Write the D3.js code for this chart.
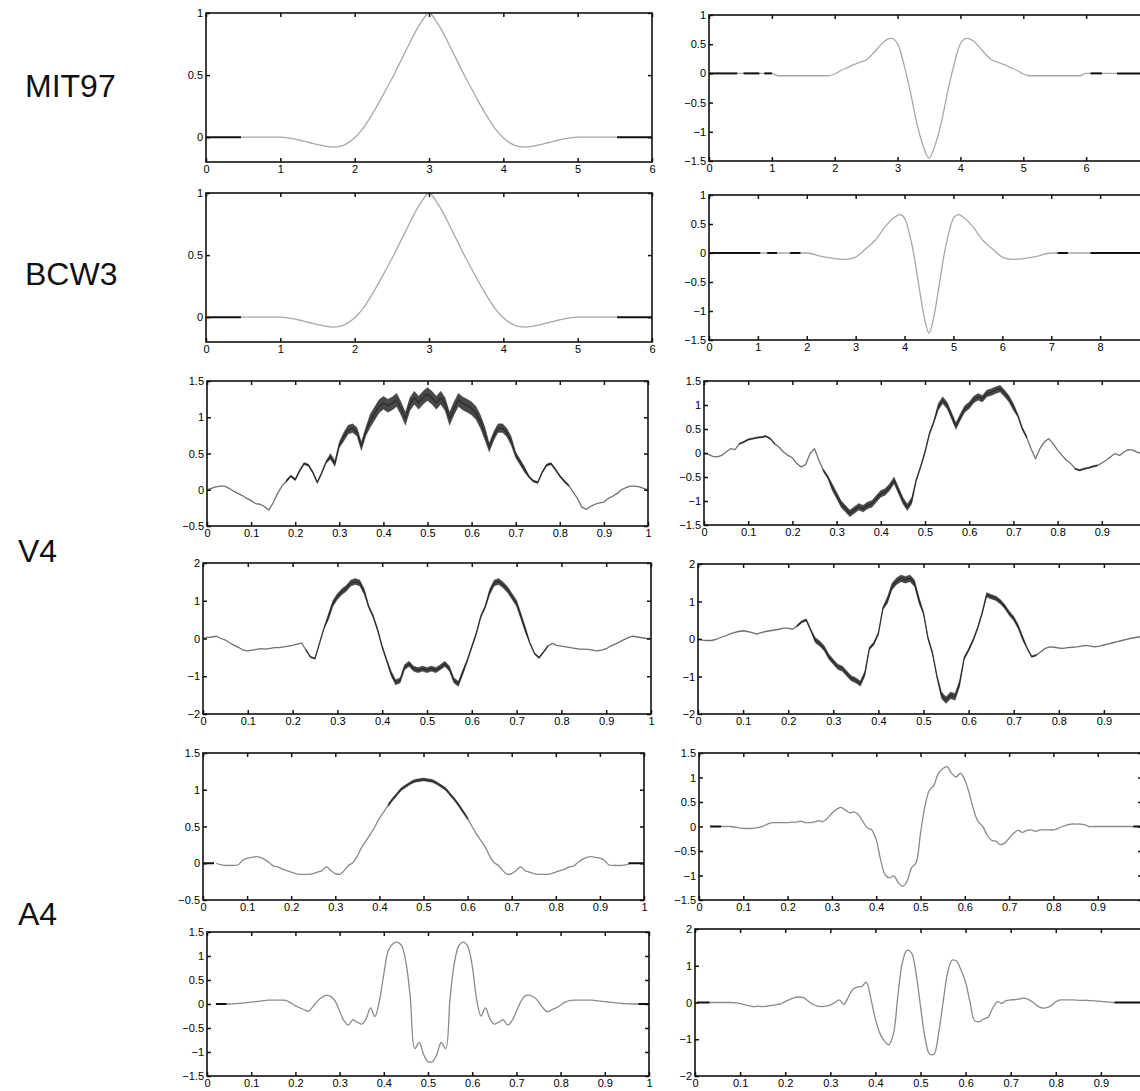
<!DOCTYPE html>
<html>
<head>
<meta charset="utf-8">
<script src="https://cdn.jsdelivr.net/npm/d3@7"></script>
<style>
  body { margin: 0; background: #fff; overflow: hidden; }
  svg { display: block; }
</style>
</head>
<body>
<div id="chart"></div>
<script>
// ---- data ----

const rowLabels = ["MIT97", "BCW3", "V4", "A4"];

// MIT97 / BCW3 scaling function (support 0..6)
const phiX = [0.47, 0.6, 0.8, 1.0, 1.1, 1.2, 1.3, 1.4, 1.5, 1.6, 1.7, 1.8, 1.9, 2.0, 2.1, 2.2, 2.3, 2.4, 2.5, 2.6,
  2.7, 2.8, 2.9, 3.0, 3.1, 3.2, 3.3, 3.4, 3.5, 3.6, 3.7, 3.8, 3.9, 4.0, 4.1, 4.2, 4.3, 4.4, 4.5, 4.6,
  4.7, 4.8, 4.9, 5.0, 5.2, 5.4, 5.53];
const mitPhi = [0, 0, 0, 0, -0.005, -0.015, -0.03, -0.045, -0.06, -0.072, -0.08, -0.075, -0.05, -0.005, 0.06, 0.15, 0.25, 0.36, 0.47, 0.59,
  0.71, 0.83, 0.93, 1.0, 0.93, 0.83, 0.71, 0.59, 0.47, 0.36, 0.25, 0.15, 0.06, -0.005, -0.05, -0.075, -0.08, -0.072, -0.06, -0.045,
  -0.03, -0.015, -0.005, 0, 0, 0, 0];
const bcwPhi = [0, 0, 0, 0, -0.005, -0.015, -0.03, -0.045, -0.06, -0.072, -0.08, -0.075, -0.05, -0.005, 0.06, 0.15, 0.25, 0.36, 0.47, 0.59,
  0.71, 0.83, 0.93, 1.0, 0.93, 0.83, 0.71, 0.59, 0.47, 0.36, 0.25, 0.15, 0.06, -0.005, -0.05, -0.075, -0.08, -0.072, -0.06, -0.045,
  -0.03, -0.015, -0.005, 0, 0, 0, 0];

// MIT97 wavelet
const mitPsiX = [0.45, 0.8, 1.0, 1.1, 1.5, 1.9, 2.0, 2.1, 2.2, 2.3, 2.4, 2.5, 2.6, 2.7, 2.8, 2.9, 3.0, 3.1, 3.2, 3.3,
  3.4, 3.5, 3.6, 3.7, 3.8, 3.9, 4.0, 4.1, 4.2, 4.3, 4.4, 4.5, 4.6, 4.7, 4.8, 4.9, 5.0, 5.1, 5.5, 5.9,
  6.0, 6.2, 6.5];
const mitPsi = [0, 0, 0, -0.04, -0.04, -0.04, -0.01, 0.05, 0.1, 0.15, 0.19, 0.23, 0.33, 0.45, 0.56, 0.60, 0.51, 0.16, -0.30, -0.82,
  -1.22, -1.45, -1.22, -0.82, -0.30, 0.16, 0.51, 0.60, 0.56, 0.45, 0.33, 0.23, 0.19, 0.15, 0.1, 0.05, -0.01, -0.04, -0.04, -0.04,
  0, 0, 0];

// BCW3 wavelet
const bcwPsiX = [1.05, 1.4, 1.87, 2.0, 2.3, 2.6, 2.8, 3.0, 3.2, 3.4, 3.6, 3.8, 3.9, 4.0, 4.1, 4.2, 4.3, 4.4, 4.5, 4.6,
  4.7, 4.8, 4.9, 5.0, 5.1, 5.2, 5.4, 5.6, 5.8, 6.0, 6.2, 6.4, 6.7, 7.0, 7.13, 7.4, 7.8];
const bcwPsi = [0, 0, 0, 0, -0.06, -0.1, -0.11, -0.07, 0.07, 0.22, 0.45, 0.62, 0.66, 0.6, 0.33, -0.07, -0.6, -1.1, -1.38, -1.1,
  -0.6, -0.07, 0.33, 0.6, 0.66, 0.62, 0.45, 0.22, 0.07, -0.07, -0.11, -0.1, -0.06, 0, 0, 0, 0];

// black zero-padding segments [from, to]
const mitPhiZero = [[0, 0.47], [5.53, 6]];
const mitPsiZero = [[0, 0.45], [0.55, 0.8], [0.88, 1.0], [6.07, 6.25], [6.49, 7]];
const bcwPhiZero = [[0, 0.47], [5.53, 6]];
const bcwPsiZero = [[0, 1.05], [1.19, 1.39], [1.66, 1.87], [7.13, 7.34], [7.8, 9]];
const a4PhiAZero = [[0, 0.025], [0.965, 1]];
const a4PsiAZero = [[0.025, 0.05], [0.98, 1]];
const a4PhiBZero = [[0.02, 0.044], [0.976, 1]];
const a4PsiBZero = [[0.004, 0.032], [0.93, 1]];

// common sample grid for the [0,1] panels
const gridX = [0, 0.01, 0.02, 0.03, 0.04, 0.05, 0.06, 0.07, 0.08, 0.09,
  0.10, 0.11, 0.12, 0.13, 0.14, 0.15, 0.16, 0.17, 0.18, 0.19,
  0.20, 0.21, 0.22, 0.23, 0.24, 0.25, 0.26, 0.27, 0.28, 0.29,
  0.30, 0.31, 0.32, 0.33, 0.34, 0.35, 0.36, 0.37, 0.38, 0.39,
  0.40, 0.41, 0.42, 0.43, 0.44, 0.45, 0.46, 0.47, 0.48, 0.49,
  0.50, 0.51, 0.52, 0.53, 0.54, 0.55, 0.56, 0.57, 0.58, 0.59,
  0.60, 0.61, 0.62, 0.63, 0.64, 0.65, 0.66, 0.67, 0.68, 0.69,
  0.70, 0.71, 0.72, 0.73, 0.74, 0.75, 0.76, 0.77, 0.78, 0.79,
  0.80, 0.81, 0.82, 0.83, 0.84, 0.85, 0.86, 0.87, 0.88, 0.89,
  0.90, 0.91, 0.92, 0.93, 0.94, 0.95, 0.96, 0.97, 0.98, 0.99, 1.00];

// V4, first pair
const v4PhiA = [0.00, 0.02, 0.04, 0.05, 0.05, 0.02, -0.02, -0.05, -0.08, -0.12,
  -0.15, -0.19, -0.20, -0.23, -0.28, -0.18, -0.05, 0.05, 0.12, 0.19,
  0.14, 0.26, 0.36, 0.34, 0.24, 0.10, 0.23, 0.38, 0.46, 0.36,
  0.62, 0.73, 0.83, 0.85, 0.80, 0.60, 0.80, 0.95, 1.05, 1.15,
  1.20, 1.16, 1.19, 1.24, 1.12, 0.98, 1.18, 1.27, 1.20, 1.27,
  1.32, 1.27, 1.20, 1.27, 1.18, 0.98, 1.12, 1.24, 1.19, 1.16,
  1.12, 1.06, 0.94, 0.78, 0.58, 0.74, 0.85, 0.85, 0.79, 0.67,
  0.48, 0.38, 0.28, 0.18, 0.12, 0.10, 0.24, 0.34, 0.36, 0.28,
  0.19, 0.12, 0.06, -0.03, -0.12, -0.24, -0.27, -0.23, -0.20, -0.18,
  -0.17, -0.12, -0.09, -0.05, 0.00, 0.03, 0.05, 0.05, 0.04, 0.02, 0.00];
const v4PsiA = [-0.01, -0.03, -0.07, -0.08, -0.05, 0.02, 0.09, 0.07, 0.19, 0.23,
  0.28, 0.30, 0.32, 0.33, 0.35, 0.30, 0.19, 0.12, 0.02, -0.05,
  -0.10, -0.22, -0.29, -0.24, -0.01, 0.09, -0.15, -0.36, -0.50, -0.71,
  -0.88, -1.06, -1.16, -1.26, -1.19, -1.12, -1.16, -1.09, -1.06, -0.95,
  -0.85, -0.81, -0.71, -0.57, -0.78, -0.99, -1.13, -0.99, -0.57, -0.29,
  0.02, 0.40, 0.65, 0.96, 1.10, 0.99, 0.78, 0.56, 0.75, 0.92,
  0.99, 1.11, 1.17, 1.13, 1.24, 1.27, 1.31, 1.34, 1.24, 1.13,
  0.96, 0.78, 0.51, 0.33, 0.09, -0.12, 0.09, 0.23, 0.30, 0.19,
  0.06, -0.05, -0.15, -0.22, -0.33, -0.36, -0.33, -0.31, -0.28, -0.26,
  -0.21, -0.15, -0.08, -0.01, -0.05, 0.02, 0.07, 0.06, 0.02, -0.01, 0.00];

// V4, second pair
const v4PhiB = [0.00, 0.03, 0.04, 0.06, 0.00, -0.04, -0.12, -0.18, -0.24, -0.31,
  -0.33, -0.31, -0.29, -0.27, -0.28, -0.26, -0.24, -0.24, -0.22, -0.20,
  -0.18, -0.15, -0.12, -0.31, -0.49, -0.53, -0.13, 0.27, 0.58, 0.93,
  1.11, 1.24, 1.33, 1.47, 1.51, 1.47, 1.24, 0.84, 0.58, 0.22,
  -0.22, -0.58, -0.93, -1.16, -1.11, -0.76, -0.67, -0.80, -0.84, -0.80,
  -0.84, -0.80, -0.84, -0.76, -0.67, -0.80, -1.11, -1.20, -0.89, -0.58,
  -0.22, 0.13, 0.58, 0.84, 1.24, 1.47, 1.51, 1.42, 1.29, 1.11,
  0.93, 0.58, 0.22, -0.13, -0.40, -0.51, -0.36, -0.20, -0.13, -0.18,
  -0.20, -0.22, -0.24, -0.26, -0.28, -0.28, -0.29, -0.31, -0.33, -0.31,
  -0.27, -0.20, -0.15, -0.09, -0.03, 0.03, 0.06, 0.04, 0.02, 0.00, 0.00];
const v4PsiB = [0.00, -0.03, -0.04, -0.04, -0.01, 0.04, 0.08, 0.13, 0.17, 0.20,
  0.22, 0.20, 0.17, 0.13, 0.17, 0.20, 0.22, 0.24, 0.26, 0.29,
  0.29, 0.26, 0.35, 0.46, 0.51, 0.24, -0.03, -0.12, -0.25, -0.47,
  -0.61, -0.74, -0.79, -0.92, -1.05, -1.10, -1.19, -0.92, -0.25, -0.12,
  0.15, 0.82, 1.04, 1.40, 1.54, 1.62, 1.58, 1.62, 1.49, 1.04,
  0.69, 0.02, -0.38, -1.01, -1.50, -1.63, -1.50, -1.54, -1.19, -0.52,
  -0.29, -0.03, 0.29, 0.69, 1.18, 1.13, 1.09, 1.00, 0.87, 0.69,
  0.55, 0.33, 0.02, -0.25, -0.47, -0.43, -0.34, -0.25, -0.21, -0.22,
  -0.24, -0.25, -0.23, -0.22, -0.21, -0.19, -0.17, -0.19, -0.21, -0.19,
  -0.16, -0.13, -0.10, -0.07, -0.04, -0.01, 0.02, 0.04, 0.06, 0.04, 0.00];

// thickness of the dense-oscillation band [from, to, half-height]
const v4PhiABands = [[0.18, 0.27, 0.015], [0.28, 0.30, 0.04], [0.31, 0.36, 0.06], [0.37, 0.63, 0.09],
  [0.64, 0.69, 0.06], [0.70, 0.72, 0.04], [0.73, 0.82, 0.015]];
const v4PsiABands = [[0.08, 0.16, 0.015], [0.27, 0.28, 0.03], [0.29, 0.47, 0.07], [0.48, 0.52, 0.03],
  [0.53, 0.70, 0.07], [0.71, 0.73, 0.03], [0.84, 0.89, 0.015]];
const v4PhiBBands = [[0.23, 0.27, 0.02], [0.28, 0.36, 0.08], [0.37, 0.41, 0.04], [0.42, 0.58, 0.07],
  [0.59, 0.63, 0.04], [0.64, 0.72, 0.08], [0.73, 0.77, 0.02]];
const v4PsiBBands = [[0.22, 0.25, 0.03], [0.26, 0.37, 0.07], [0.38, 0.41, 0.04], [0.42, 0.49, 0.09],
  [0.50, 0.53, 0.04], [0.54, 0.58, 0.09], [0.59, 0.63, 0.04], [0.64, 0.72, 0.06], [0.73, 0.75, 0.02]];
const a4PhiABands = [[0.42, 0.60, 0.02]];

// A4, first pair (null = padding drawn black)
const a4PhiA = [null, null, null, 0, -0.02, -0.03, -0.03, -0.03, -0.02, 0.04,
  0.07, 0.08, 0.09, 0.08, 0.05, 0.01, -0.04, -0.05, -0.08, -0.10,
  -0.12, -0.14, -0.15, -0.15, -0.15, -0.14, -0.12, -0.10, -0.05, -0.10,
  -0.14, -0.15, -0.10, -0.03, 0.01, 0.10, 0.22, 0.31, 0.40, 0.50,
  0.61, 0.70, 0.79, 0.87, 0.94, 1.01, 1.05, 1.09, 1.12, 1.13,
  1.14, 1.13, 1.12, 1.09, 1.05, 1.01, 0.94, 0.87, 0.79, 0.70,
  0.61, 0.50, 0.40, 0.31, 0.22, 0.10, 0.01, -0.03, -0.10, -0.15,
  -0.14, -0.10, -0.05, -0.10, -0.12, -0.14, -0.15, -0.15, -0.15, -0.14,
  -0.12, -0.10, -0.08, -0.05, -0.04, 0.01, 0.05, 0.08, 0.09, 0.08,
  0.07, 0.04, -0.02, -0.03, -0.03, -0.03, -0.02, 0, null, null, null];
const a4PsiA = [null, null, null, null, null, 0, 0, 0, -0.01, -0.03,
  -0.04, -0.04, -0.04, -0.03, -0.01, 0.03, 0.07, 0.08, 0.08, 0.08,
  0.08, 0.09, 0.09, 0.11, 0.08, 0.08, 0.09, 0.12, 0.10, 0.17,
  0.27, 0.35, 0.39, 0.34, 0.28, 0.30, 0.24, 0.10, -0.03, -0.07,
  -0.27, -0.68, -0.98, -1.05, -1.01, -1.15, -1.22, -1.11, -0.84, -0.74,
  -0.14, 0.41, 0.74, 0.84, 1.08, 1.18, 1.22, 1.09, 1.01, 1.09,
  0.95, 0.68, 0.34, 0.10, 0.01, -0.17, -0.28, -0.30, -0.37, -0.34,
  -0.24, -0.14, -0.08, -0.12, -0.08, -0.07, -0.10, -0.07, -0.07, -0.07,
  -0.07, -0.04, 0, 0.03, 0.05, 0.05, 0.05, 0.04, 0, 0,
  0, 0, 0, 0, 0, 0, 0, 0, 0, null, null];

// A4, second pair
const a4PhiB = [null, null, null, null, 0, 0, 0.005, 0.01, 0.02, 0.03,
  0.04, 0.05, 0.06, 0.07, 0.08, 0.08, 0.08, 0.08, 0.07, 0.02,
  -0.04, -0.08, -0.12, -0.15, -0.05, 0.06, 0.14, 0.18, 0.16, 0.06,
  -0.15, -0.35, -0.44, -0.33, -0.38, -0.42, -0.31, -0.08, -0.26, 0.06,
  0.62, 1.11, 1.25, 1.29, 1.22, 0.87, 0.13, -0.93, -0.80, -1.05,
  -1.20, -1.20, -1.05, -0.80, -0.93, 0.13, 0.87, 1.22, 1.29, 1.20,
  0.80, 0.10, -0.25, -0.08, -0.31, -0.42, -0.38, -0.33, -0.44, -0.35,
  -0.15, 0.05, 0.17, 0.18, 0.14, 0.05, -0.08, -0.16, -0.12, -0.08,
  -0.02, 0.04, 0.07, 0.08, 0.08, 0.08, 0.08, 0.08, 0.07, 0.06,
  0.05, 0.04, 0.03, 0.02, 0.01, 0.005, 0, 0, 0, null, null];
const a4PsiB = [null, null, null, 0, 0, 0, 0, 0, 0, -0.01,
  -0.03, -0.06, -0.09, -0.11, -0.10, -0.11, -0.10, -0.08, -0.06, -0.04,
  0.03, 0.08, 0.13, 0.15, 0.13, 0.05, -0.04, -0.09, -0.11, -0.10,
  -0.07, 0.00, 0.07, -0.05, 0.15, 0.36, 0.42, 0.44, 0.55, 0.10,
  -0.45, -0.84, -1.05, -1.15, -0.85, 0.20, 1.10, 1.42, 1.35, 0.80,
  -0.10, -0.95, -1.40, -1.40, -0.85, 0.00, 0.80, 1.15, 1.12, 0.88,
  0.55, 0.00, -0.50, -0.52, -0.45, -0.40, -0.15, 0.02, -0.02, 0.05,
  0.07, 0.08, 0.10, 0.12, 0.08, 0.00, -0.10, -0.15, -0.14, -0.08,
  0.02, 0.07, 0.07, 0.07, 0.07, 0.06, 0.06, 0.06, 0.05, 0.04,
  0.03, 0.02, 0.01, 0, null, null, null, null, null, null, null];

// ---- layout ----
const width = 1140, height = 1091;

const ticks01 = [0, 0.1, 0.2, 0.3, 0.4, 0.5, 0.6, 0.7, 0.8, 0.9, 1];
const smooth = d3.curveMonotoneX;
const wiggly = d3.curveCatmullRom.alpha(0.5);

const panels = [
  { box: [206, 13, 652, 162], xDomain: [0, 6], yDomain: [-0.2, 1], xTicks: [0, 1, 2, 3, 4, 5, 6], yTicks: [0, 0.5, 1],
    xs: phiX, ys: mitPhi, zero: mitPhiZero, color: "#a8a8a8", curve: smooth },
  { box: [709, 15, 1149, 161], xDomain: [0, 7], yDomain: [-1.5, 1], xTicks: [0, 1, 2, 3, 4, 5, 6, 7], yTicks: [-1.5, -1, -0.5, 0, 0.5, 1],
    xs: mitPsiX, ys: mitPsi, zero: mitPsiZero, color: "#a8a8a8", curve: smooth },
  { box: [206, 193, 652, 342], xDomain: [0, 6], yDomain: [-0.2, 1], xTicks: [0, 1, 2, 3, 4, 5, 6], yTicks: [0, 0.5, 1],
    xs: phiX, ys: bcwPhi, zero: bcwPhiZero, color: "#a8a8a8", curve: smooth },
  { box: [709, 195, 1149, 340], xDomain: [0, 9], yDomain: [-1.5, 1], xTicks: [0, 1, 2, 3, 4, 5, 6, 7, 8, 9], yTicks: [-1.5, -1, -0.5, 0, 0.5, 1],
    xs: bcwPsiX, ys: bcwPsi, zero: bcwPsiZero, color: "#a8a8a8", curve: smooth },
  { box: [207, 381, 648, 526], xDomain: [0, 1], yDomain: [-0.5, 1.5], xTicks: ticks01, yTicks: [-0.5, 0, 0.5, 1, 1.5],
    xs: gridX, ys: v4PhiA, bands: v4PhiABands, color: "#707070", curve: d3.curveLinear },
  { box: [704, 381, 1146, 525], xDomain: [0, 1], yDomain: [-1.5, 1.5], xTicks: ticks01, yTicks: [-1.5, -1, -0.5, 0, 0.5, 1, 1.5],
    xs: gridX, ys: v4PsiA, bands: v4PsiABands, color: "#707070", curve: d3.curveLinear },
  { box: [203, 563, 651, 714], xDomain: [0, 1], yDomain: [-2, 2], xTicks: ticks01, yTicks: [-2, -1, 0, 1, 2],
    xs: gridX, ys: v4PhiB, bands: v4PhiBBands, color: "#707070", curve: d3.curveLinear },
  { box: [698, 564, 1149, 714], xDomain: [0, 1], yDomain: [-2, 2], xTicks: ticks01, yTicks: [-2, -1, 0, 1, 2],
    xs: gridX, ys: v4PsiB, bands: v4PsiBBands, color: "#707070", curve: d3.curveLinear },
  { box: [203, 753, 644, 900], xDomain: [0, 1], yDomain: [-0.5, 1.5], xTicks: ticks01, yTicks: [-0.5, 0, 0.5, 1, 1.5],
    xs: gridX, ys: a4PhiA, zero: a4PhiAZero, bands: a4PhiABands, color: "#8a8a8a", curve: wiggly },
  { box: [699, 753, 1142, 900], xDomain: [0, 1], yDomain: [-1.5, 1.5], xTicks: ticks01, yTicks: [-1.5, -1, -0.5, 0, 0.5, 1, 1.5],
    xs: gridX, ys: a4PsiA, zero: a4PsiAZero, color: "#8a8a8a", curve: wiggly },
  { box: [207, 932, 649, 1076], xDomain: [0, 1], yDomain: [-1.5, 1.5], xTicks: ticks01, yTicks: [-1.5, -1, -0.5, 0, 0.5, 1, 1.5],
    xs: gridX, ys: a4PhiB, zero: a4PhiBZero, color: "#8a8a8a", curve: wiggly },
  { box: [695, 929, 1146, 1076], xDomain: [0, 1], yDomain: [-2, 2], xTicks: ticks01, yTicks: [-2, -1, 0, 1, 2],
    xs: gridX, ys: a4PsiB, zero: a4PsiBZero, color: "#8a8a8a", curve: wiggly }
];

const labelPos = [[25, 85], [25, 273], [18, 550], [18, 913]];

const fmt = d => (d < 0 ? "\u2212" : "") + Math.abs(d);

function bandAt(bands, xv) {
  if (!bands) return 0;
  const b = bands.find(b => xv >= b[0] - 1e-9 && xv <= b[1] + 1e-9);
  return b ? b[2] : 0;
}

const svg = d3.select("#chart").append("svg")
  .attr("width", width)
  .attr("height", height)
  .attr("font-family", "'Liberation Sans', Arial, sans-serif");

svg.append("rect").attr("width", width).attr("height", height).attr("fill", "#fff");

panels.forEach(p => {
  const [l, t, r, b] = p.box;
  const x = d3.scaleLinear().domain(p.xDomain).range([l, r]);
  const y = d3.scaleLinear().domain(p.yDomain).range([b, t]);
  const g = svg.append("g");

  const pts = p.xs.map((xv, i) => ({ x: xv, v: p.ys[i], s: bandAt(p.bands, xv) }));

  // the curve itself
  g.append("path")
    .datum(pts)
    .attr("fill", "none")
    .attr("stroke", p.color)
    .attr("stroke-width", 1.3)
    .attr("stroke-linejoin", "round")
    .attr("d", d3.line()
      .defined(d => d.v != null)
      .x(d => x(d.x))
      .y(d => y(d.v))
      .curve(p.curve));

  // dark band where the function oscillates densely
  if (p.bands) {
    g.append("path")
      .datum(pts)
      .attr("fill", "#1a1a1a")
      .attr("fill-opacity", 0.8)
      .attr("stroke", "#1a1a1a")
      .attr("stroke-opacity", 0.35)
      .attr("stroke-width", 0.8)
      .attr("d", d3.area()
        .defined(d => d.v != null && d.s > 0)
        .x(d => x(d.x))
        .y0(d => y(d.v - d.s))
        .y1(d => y(d.v + d.s))
        .curve(p.curve));
  }

  // zero padding, drawn black
  (p.zero || []).forEach(seg => {
    g.append("path")
      .attr("fill", "none")
      .attr("stroke", "#111")
      .attr("stroke-width", 2)
      .attr("d", d3.line().x(d => x(d)).y(() => y(0))(seg));
  });

  // labels past the page edge are not shown in the figure
  const xFmt = d => (x(d) > width - 6 ? "" : fmt(d));

  // axes, ticks pointing inwards on all four sides
  const tk = 4;
  g.append("g")
    .attr("transform", `translate(0,${b})`)
    .call(d3.axisBottom(x).tickValues(p.xTicks).tickSize(-tk).tickSizeOuter(0).tickPadding(3).tickFormat(xFmt));
  g.append("g")
    .attr("transform", `translate(0,${t})`)
    .call(d3.axisTop(x).tickValues(p.xTicks).tickSize(-tk).tickSizeOuter(0).tickFormat(""));
  g.append("g")
    .attr("transform", `translate(${l},0)`)
    .call(d3.axisLeft(y).tickValues(p.yTicks).tickSize(-tk).tickSizeOuter(0).tickPadding(3).tickFormat(fmt));
  g.append("g")
    .attr("transform", `translate(${r},0)`)
    .call(d3.axisRight(y).tickValues(p.yTicks).tickSize(-tk).tickSizeOuter(0).tickFormat(""));

  g.selectAll(".domain").remove();
  g.selectAll(".tick line").attr("stroke", "#111").attr("stroke-width", 1.5);
  g.selectAll(".tick text")
    .attr("font-family", "'Liberation Sans', Arial, sans-serif")
    .attr("font-size", 11)
    .attr("fill", "#000");

  g.append("rect")
    .attr("x", l).attr("y", t)
    .attr("width", r - l).attr("height", b - t)
    .attr("fill", "none")
    .attr("stroke", "#111")
    .attr("stroke-width", 1.6);
});

// row names
svg.selectAll("text.row")
  .data(rowLabels)
  .join("text")
  .attr("class", "row")
  .attr("x", (d, i) => labelPos[i][0])
  .attr("y", (d, i) => labelPos[i][1])
  .attr("dy", "0.36em")
  .attr("font-size", 32)
  .attr("fill", "#111")
  .text(d => d);
</script>
</body>
</html>
